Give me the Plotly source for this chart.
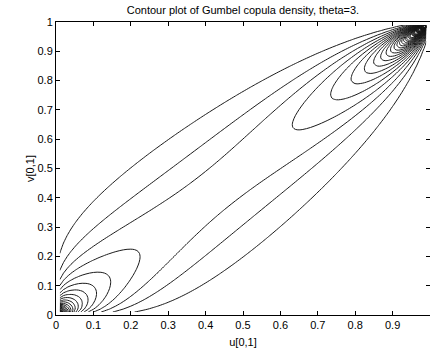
import numpy as np
import plotly.graph_objects as go

# Chart parameters (from the title and the picture)
THETA = 3.0
GRID = [round(0.01 * k, 2) for k in range(1, 100)]   # u, v sample points 0.01..0.99
LEVEL_START = 0.7
LEVEL_STEP = 0.6
TICKS = [round(0.1 * k, 1) for k in range(0, 11)]
TICK_LABELS = ["0", "0.1", "0.2", "0.3", "0.4", "0.5", "0.6", "0.7", "0.8", "0.9", "1"]
TITLE = "Contour plot of Gumbel copula density, theta=3."
XLABEL = "u[0,1]"
YLABEL = "v[0,1]"

u = np.array(GRID)
v = np.array(GRID)
U, V = np.meshgrid(u, v)
X = -np.log(U)
Y = -np.log(V)
A = X ** THETA + Y ** THETA
Ar = A ** (1.0 / THETA)
C = np.exp(-Ar)
Z = C * (X * Y) ** (THETA - 1) / (U * V) * A ** (1.0 / THETA - 2) * (Ar + THETA - 1)

font = "Liberation Sans, Arial, sans-serif"

fig = go.Figure(go.Contour(
    x=u, y=v, z=Z,
    contours=dict(start=LEVEL_START, end=float(Z.max()), size=LEVEL_STEP, coloring="lines"),
    colorscale=[[0, "#1a1a1a"], [1, "#1a1a1a"]],
    showscale=False,
    line=dict(width=1, smoothing=1),
    hoverinfo="skip",
))

axis_common = dict(
    range=[0, 1], tickmode="array", tickvals=TICKS, ticktext=TICK_LABELS,
    ticks="inside", ticklen=4, tickwidth=1, tickcolor="black",
    showline=True, linecolor="black", linewidth=1, mirror="ticks",
    showgrid=False, zeroline=False,
    tickfont=dict(family=font, size=11, color="black"),
)

fig.update_layout(
    width=430, height=350,
    margin=dict(l=56, r=0, t=22, b=35),
    paper_bgcolor="white", plot_bgcolor="white",
    title=dict(text=TITLE, x=0.565, xanchor="center", y=0.972, yanchor="middle",
               font=dict(family=font, size=11, color="black")),
    xaxis=dict(**axis_common, title=dict(text=XLABEL, standoff=8,
               font=dict(family=font, size=11, color="black"))),
    yaxis=dict(**axis_common, title=dict(text=YLABEL, standoff=0,
               font=dict(family=font, size=11, color="black"))),
)

fig.write_html("out.html")
